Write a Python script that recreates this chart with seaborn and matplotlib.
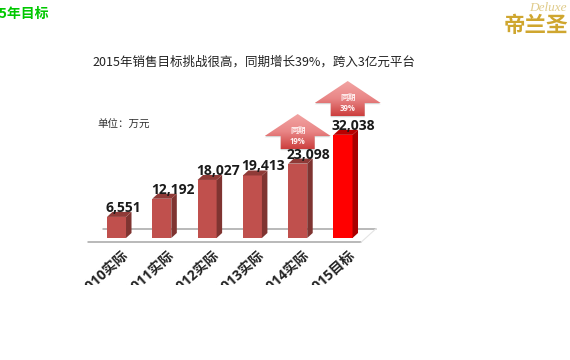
import matplotlib
matplotlib.use('Agg')
from matplotlib import pyplot as plt
from matplotlib.patches import Polygon, Rectangle
import pandas as pd
import numpy as np
import seaborn as sns

years = ['2010实际', '2011实际', '2012实际', '2013实际', '2014实际', '2015目标']
sales = [6551, 12192, 18027, 19413, 23098, 32038]
bar_colors = ['#c0504d', '#c0504d', '#c0504d', '#c0504d', '#c0504d', '#ff0000']
side_colors = ['#7f3431', '#7f3431', '#7f3431', '#7f3431', '#7f3431', '#a80000']
top_colors = ['#8f3a37', '#8f3a37', '#8f3a37', '#8f3a37', '#8f3a37', '#b80000']
growth_labels = ['同期\n19%', '同期\n39%']

W, H = 570, 360
mixed = ['Open Sans', 'Noto Sans CJK SC']

sns.set_theme(style='white')
plt.rcParams['font.family'] = ['Noto Sans CJK SC', 'DejaVu Sans']

fig = plt.figure(figsize=(W / 100, H / 100), dpi=100)
bg = fig.add_axes([0, 0, 1, 1])
bg.axis('off')

# chart area, 45.3 px per category, 0.00322 px per unit
ax = fig.add_axes([93.85 / W, (H - 238) / H, 271.8 / W, 128.8 / H])
df = pd.DataFrame({'year': years, 'sales': sales})
sns.barplot(data=df, x='year', y='sales', hue='year', palette=bar_colors,
            legend=False, width=0.42, saturation=1, linewidth=0, ax=ax, zorder=3)
ax.set_ylim(0, 40000)
ax.set_xlim(-0.5, 5.5)
ax.patch.set_alpha(0)
sns.despine(ax=ax, left=True, bottom=True)
ax.set_yticks([])
ax.set_xlabel('')
ax.set_ylabel('')
ax.set_xticks([])

# floor of the 3d chart
bg.plot([88, 361], [242.3, 242.3], color='#a6a6a6', lw=1.1, zorder=1)
bg.plot([103, 376], [228.7, 228.7], color='#a6a6a6', lw=1.1, zorder=1)
bg.plot([361, 376], [242.3, 228.7], color='#e4e4e4', lw=0.8, zorder=1)

# depth of bars
dx = 5.5 / 45.3
dy = 5 / 0.00322
px_y = 1 / 0.00322
clip = Rectangle((0, 0), W, 285, transform=bg.transData)
for i, p in enumerate(ax.patches):
    x0, w, h = p.get_x(), p.get_width(), p.get_height()
    x1 = x0 + w
    ax.add_patch(Polygon([(x1, 0), (x1 + dx, dy), (x1 + dx, h + dy), (x1, h)],
                         facecolor=side_colors[i], edgecolor='none', zorder=3))
    ax.add_patch(Polygon([(x0, h), (x1, h), (x1 + dx, h + dy), (x0 + dx, h + dy)],
                         facecolor=top_colors[i], edgecolor='none', zorder=3))
    ax.text(x0 - 1.5 / 45.3, h + 9 * px_y, f'{sales[i]:,}', ha='left', va='center',
            fontsize=10, fontweight='bold', family='Open Sans', color='#1a1a1a', zorder=5)
    lab = bg.text(126.5 + 45.3 * i, 253.5, years[i], rotation=42, rotation_mode='anchor',
                  ha='right', va='center', fontsize=10, fontweight='bold',
                  family=mixed, color='#222222')
    lab.set_clip_path(clip)
    lab.set_clip_on(True)

# growth arrows, light at the top going to dark red
grad = np.linspace(0, 1, 64).reshape(-1, 1)
cmap = matplotlib.colors.LinearSegmentedColormap.from_list('arrow', ['#f2a4a3', '#e98686', '#cc3f3e'])
for (cx, tip, label) in [(297.7, 114, growth_labels[0]), (347.7, 81, growth_labels[1])]:
    pts = [(cx, tip), (cx + 33, tip + 22), (cx + 17, tip + 22), (cx + 17, tip + 35),
           (cx - 17, tip + 35), (cx - 17, tip + 22), (cx - 33, tip + 22)]
    bg.add_patch(Polygon([(a, b + 1.2) for a, b in pts], facecolor='#888888', alpha=0.35,
                         edgecolor='none', zorder=3))
    im = bg.imshow(grad, extent=(cx - 33, cx + 33, tip + 35, tip), cmap=cmap, aspect='auto', zorder=4)
    im.set_clip_path(Polygon(pts, transform=bg.transData))
    bg.text(cx, tip + 22, label, ha='center', va='center', fontsize=5.6, fontweight='bold',
            family=mixed, color='#fff2f2', linespacing=1.2, zorder=6)
bg.set_xlim(0, W)
bg.set_ylim(H, 0)

bg.text(49, 14, '2015年目标', fontsize=10, fontweight='bold', color='#00c800', ha='right', va='center')
bg.text(92, 62, '2015年销售目标挑战很高，同期增长39%，跨入3亿元平台', fontsize=9, color='#222222', va='center')
bg.text(97, 125, '单位：万元', fontsize=7.6, color='#333333', va='center')

# logo
bg.text(529, 8, 'Deluxe', fontsize=9.5, family='Liberation Serif', style='italic', color='#e0cb8a', va='center')
bg.text(504, 26, '帝兰圣', fontsize=15.5, fontweight='bold', color='#cfa62f', va='center')

fig.savefig('out.png', dpi=100)
